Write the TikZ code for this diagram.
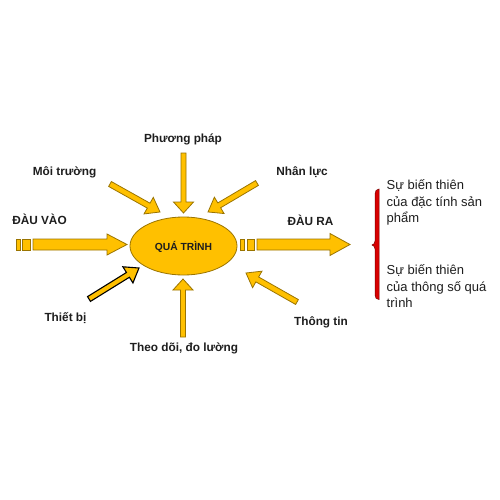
\documentclass[tikz,border=0pt]{standalone}
\usepackage{fontspec}
\setmainfont{Liberation Sans}
\usetikzlibrary{shapes.geometric}
\definecolor{gold}{HTML}{FFC000}
\definecolor{outl}{HTML}{9A7400}
\definecolor{txt}{HTML}{1E1E1E}
\definecolor{bracered}{HTML}{D80000}
\definecolor{bracedark}{HTML}{7A0000}
\tikzset{
  arrowline/.style={fill=gold, draw=outl, line width=0.8pt, line join=miter},
  darkline/.style={fill=gold, draw=black, line width=1.1pt, line join=miter},
  lbl/.style={font=\fontsize{11.8}{14}\selectfont\bfseries, text=txt, anchor=base, inner sep=0pt},
  rtxt/.style={font=\fontsize{13}{16.5}\selectfont, text=txt, anchor=base west, inner sep=0pt},
  pics/blockarrow/.style n args={5}{code={
    \draw[#5] (0,-#2) -- ({#1-#4},-#2) -- ({#1-#4},-#3) -- (#1,0) -- ({#1-#4},#3) -- ({#1-#4},#2) -- (0,#2) -- cycle;}}
}
\begin{document}
\begin{tikzpicture}[x=1pt,y=-1pt]
\useasboundingbox (0,0) rectangle (500,500);
\fill[white] (0,0) rectangle (500,500);

% central process
\node[ellipse, fill=gold, draw=outl, line width=0.8pt, minimum width=107pt, minimum height=58pt, inner sep=0pt] (qt) at (183.5,246) {};
\node[lbl, font=\fontsize{10.3}{12}\selectfont\bfseries] (qtl) at (183.5,250.7) {QUÁ TRÌNH};

% input arrow
\draw[arrowline] (16,239) rectangle (20.5,250);
\draw[arrowline] (22.5,239) rectangle (30.5,250);
\pic at (33,244.5) {blockarrow={94}{5.5}{10.5}{20}{arrowline}};

% output arrow
\draw[arrowline] (240,239) rectangle (244,250);
\draw[arrowline] (247,239) rectangle (254,250);
\pic at (257,244.5) {blockarrow={93}{5.5}{11}{20}{arrowline}};

% vertical arrows
\pic[rotate=-90] at (183.5,153) {blockarrow={60}{2.5}{10}{11}{arrowline}};
\pic[rotate=90] at (183,337) {blockarrow={58}{2.5}{10}{11}{arrowline}};

% diagonal arrows
\pic[rotate=-29.25] at (110,184) {blockarrow={57.3}{2.8}{9.5}{13}{arrowline}};
\pic[rotate=-149.4] at (257,183) {blockarrow={56.9}{2.8}{9.5}{13}{arrowline}};
\pic[rotate=31.8] at (89,299) {blockarrow={58.8}{2.8}{9.5}{13}{darkline}};
\pic[rotate=150.4] at (297,302) {blockarrow={58.7}{2.8}{9.5}{13}{arrowline}};

% labels
\node[lbl] (pp) at (183,142) {Phương pháp};
\node[lbl] (mt) at (64.5,175) {Môi trường};
\node[lbl] (nl) at (302,175) {Nhân lực};
\node[lbl] (dv) at (39.5,224) {ĐÀU VÀO};
\node[lbl] (dr) at (310.5,225) {ĐÀU RA};
\node[lbl] (tb) at (65.5,321) {Thiết bị};
\node[lbl] (td) at (184,351) {Theo dõi, đo lường};
\node[lbl] (tt) at (321,325) {Thông tin};

% brace
\filldraw[fill=bracered, draw=bracedark, line width=0.5pt]
  (379,189) .. controls (376.5,189) and (375,191) .. (375,194)
  -- (375,241) .. controls (375,243) and (374,244.5) .. (372,245)
  .. controls (374,245.5) and (375,247) .. (375,249)
  -- (375,295) .. controls (375,298) and (376.5,299.5) .. (379,299.5)
  -- cycle;

% right texts
\node[rtxt] (a1) at (386.5,189.5) {Sự biến thiên};
\node[rtxt] (a2) at (386.5,206) {của đặc tính sản};
\node[rtxt] (a3) at (386.5,222.5) {phẩm};
\node[rtxt] (b1) at (386.5,274.5) {Sự biến thiên};
\node[rtxt] (b2) at (386.5,291) {của thông số quá};
\node[rtxt] (b3) at (386.5,307.5) {trình};
\end{tikzpicture}
\end{document}
